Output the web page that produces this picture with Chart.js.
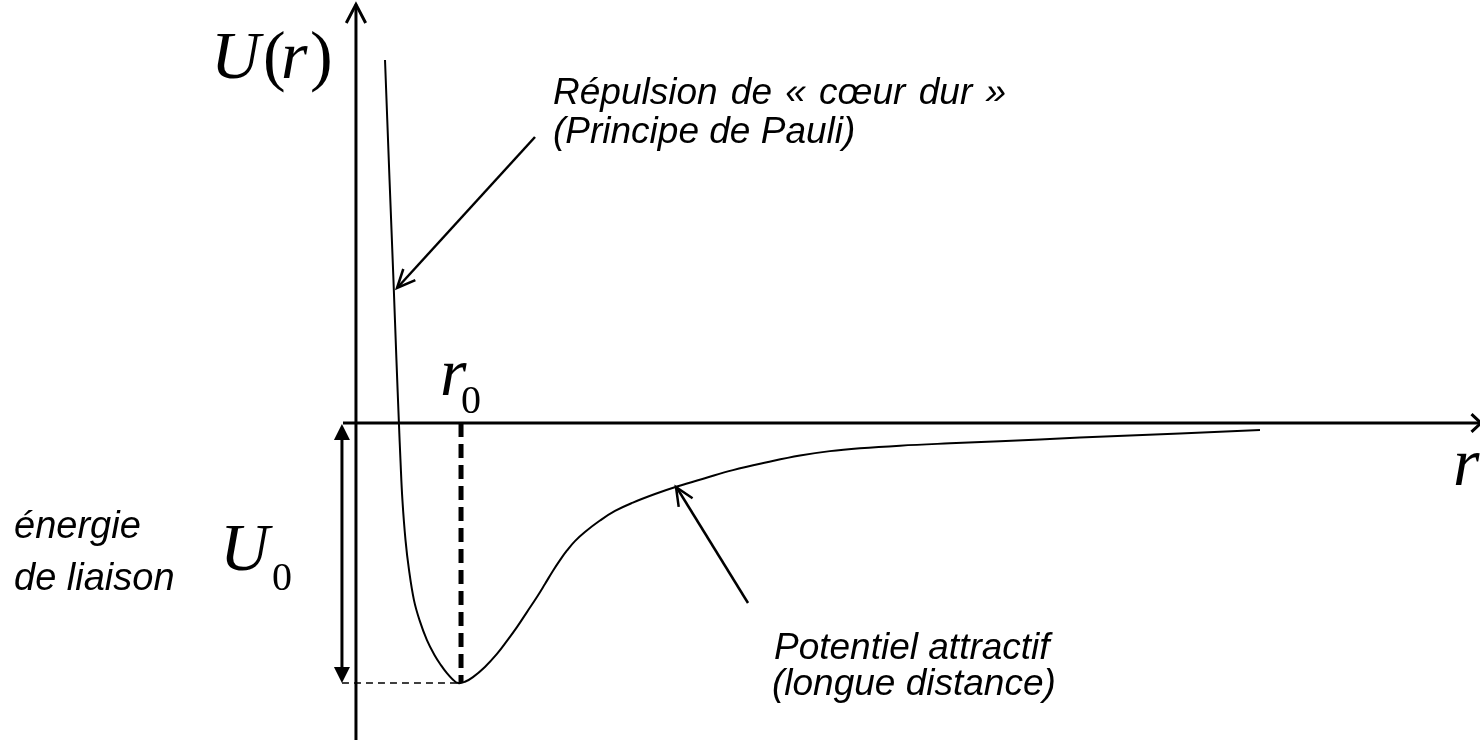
<!DOCTYPE html>
<html>
<head>
<meta charset="utf-8">
<script src="https://cdn.jsdelivr.net/npm/chart.js@4.4.1/dist/chart.umd.min.js"></script>
<style>
html,body{margin:0;padding:0;background:#fff;}
#wrap{width:1480px;height:740px;position:relative;}
</style>
</head>
<body>
<div id="wrap"><canvas id="c" width="1480" height="740"></canvas></div>
<script>
// Distance r (in units of r0) and potential U (in units of |U0|)
const rVals = [0.282, 0.326, 0.364, 0.393, 0.417, 0.432, 0.451, 0.481, 0.515, 0.563, 0.617, 0.689, 0.762, 0.825, 0.883, 0.937, 0.990,
               1.058, 1.136, 1.252, 1.369, 1.466, 1.563, 1.660, 1.757, 1.835, 1.913, 1.981, 2.049, 2.126, 2.223, 2.369, 2.515, 2.689,
               2.903, 3.117, 3.388, 3.660, 3.990, 4.311, 4.602, 4.893, 5.282, 5.767, 6.252, 7.029, 8.0, 8.777];
const uVals = [1.396, 0.935, 0.550, 0.242, 0.0, -0.142, -0.296, -0.450, -0.565, -0.681, -0.758, -0.835, -0.892, -0.931, -0.962, -0.985, -1.0,
               -0.995, -0.977, -0.938, -0.888, -0.838, -0.785, -0.727, -0.669, -0.619, -0.568, -0.527, -0.490, -0.454, -0.419, -0.375, -0.338, -0.306,
               -0.273, -0.244, -0.212, -0.181, -0.151, -0.125, -0.108, -0.097, -0.087, -0.078, -0.070, -0.056, -0.040, -0.027];
const r0 = 1.02;      // equilibrium distance marker
const U0 = -1.0;      // well depth
const xLimits = [-3.456, 10.913];
const yLimits = [-1.219, 1.627];

const points = rVals.map((r, i) => ({x: r, y: uVals[i]}));

function line(ctx, x1, y1, x2, y2, w, dash) {
  ctx.save();
  ctx.beginPath();
  ctx.lineWidth = w;
  ctx.strokeStyle = '#000';
  ctx.setLineDash(dash || []);
  ctx.moveTo(x1, y1); ctx.lineTo(x2, y2);
  ctx.stroke();
  ctx.restore();
}
function openHead(ctx, fx, fy, tx, ty, len, ang, w) {
  const a = Math.atan2(ty - fy, tx - fx);
  ctx.save();
  ctx.beginPath();
  ctx.lineWidth = w; ctx.strokeStyle = '#000'; ctx.lineJoin = 'miter';
  ctx.moveTo(tx - len * Math.cos(a - ang), ty - len * Math.sin(a - ang));
  ctx.lineTo(tx, ty);
  ctx.lineTo(tx - len * Math.cos(a + ang), ty - len * Math.sin(a + ang));
  ctx.stroke();
  ctx.restore();
}
function filledHead(ctx, fx, fy, tx, ty, len, half) {
  const a = Math.atan2(ty - fy, tx - fx);
  const bx = tx - len * Math.cos(a), by = ty - len * Math.sin(a);
  ctx.save();
  ctx.beginPath();
  ctx.fillStyle = '#000';
  ctx.moveTo(tx, ty);
  ctx.lineTo(bx + half * Math.sin(a), by - half * Math.cos(a));
  ctx.lineTo(bx - half * Math.sin(a), by + half * Math.cos(a));
  ctx.closePath(); ctx.fill();
  ctx.restore();
}
function txt(ctx, s, x, y, font, ws) {
  ctx.save();
  ctx.font = font; ctx.fillStyle = '#000'; ctx.textBaseline = 'alphabetic'; ctx.textAlign = 'left';
  if (ws) ctx.wordSpacing = ws;
  ctx.fillText(s, x, y);
  ctx.restore();
}

const decor = {
  id: 'decor',
  beforeDatasetsDraw(chart) {
    const ctx = chart.ctx;
    const xs = chart.scales.x, ys = chart.scales.y;
    const ox = xs.getPixelForValue(0), oy = ys.getPixelForValue(0);
    const px0 = xs.getPixelForValue(r0), pyMin = ys.getPixelForValue(U0);
    const ptMin = xs.getPixelForValue(0.99);
    // axes
    line(ctx, ox, ys.getPixelForValue(1.61), ox, 740, 3);
    openHead(ctx, ox, 300, ox, ys.getPixelForValue(1.61), 21, 0.48, 3);
    line(ctx, xs.getPixelForValue(-0.126), oy, 1481, oy, 3);
    openHead(ctx, 1000, oy, 1481, oy, 13, 0.75, 3);
    // r0 dashed marker
    line(ctx, px0, oy, px0, pyMin, 5, [14, 7]);
    // U0 thin dashed
    line(ctx, xs.getPixelForValue(-0.136), pyMin, ptMin, pyMin, 1.5, [7, 5]);
    // double arrow for U0
    const dax = xs.getPixelForValue(-0.136);
    line(ctx, dax, oy + 12, dax, pyMin - 14, 3);
    filledHead(ctx, dax, pyMin, dax, oy + 1, 16, 8);
    filledHead(ctx, dax, oy, dax, pyMin, 16, 8);
    // annotation arrows
    line(ctx, 535, 137, 398, 287, 2.5);
    openHead(ctx, 535, 137, 397, 288, 20, 0.42, 2.5);
    line(ctx, 748, 603, 677, 488, 2.5);
    openHead(ctx, 748, 603, 676, 487, 20, 0.42, 2.5);
  },
  afterDatasetsDraw(chart) {
    const ctx = chart.ctx;
    const serifI = 'italic 68px "Liberation Serif"';
    const serif = '68px "Liberation Serif"';
    const sub = '40px "Liberation Serif"';
    const sans = 'italic 37px "Liberation Sans"';
    const sansL = 'italic 38px "Liberation Sans"';
    // U(r)
    txt(ctx, 'U', 211, 78, serifI);
    txt(ctx, '(', 263, 78, serif);
    txt(ctx, 'r', 281, 78, serifI);
    txt(ctx, ')', 310, 78, serif);
    // r0
    txt(ctx, 'r', 440, 395, serifI);
    txt(ctx, '0', 461, 413, sub);
    // r
    txt(ctx, 'r', 1453, 485, serifI);
    // U0
    txt(ctx, 'U', 220, 570, serifI);
    txt(ctx, '0', 272, 590, sub);
    // annotations
    txt(ctx, 'Répulsion de « cœur dur »', 553, 104, sans, '3px');
    txt(ctx, '(Principe de Pauli)', 553, 143, sans);
    txt(ctx, 'énergie', 14, 538, sansL);
    txt(ctx, 'de liaison', 14, 590, sansL);
    txt(ctx, 'Potentiel attractif', 774, 659, sans);
    txt(ctx, '(longue distance)', 772, 695, sans);
  }
};

new Chart(document.getElementById('c'), {
  type: 'line',
  data: {
    datasets: [{
      data: points,
      borderColor: '#000',
      borderWidth: 2,
      pointRadius: 0,
      fill: false,
      tension: 0.4
    }]
  },
  options: {
    responsive: false,
    animation: false,
    layout: {padding: 0},
    plugins: {legend: {display: false}, tooltip: {enabled: false}},
    scales: {
      x: {type: 'linear', display: false, min: xLimits[0], max: xLimits[1]},
      y: {type: 'linear', display: false, min: yLimits[0], max: yLimits[1]}
    }
  },
  plugins: [decor]
});
</script>
</body>
</html>
